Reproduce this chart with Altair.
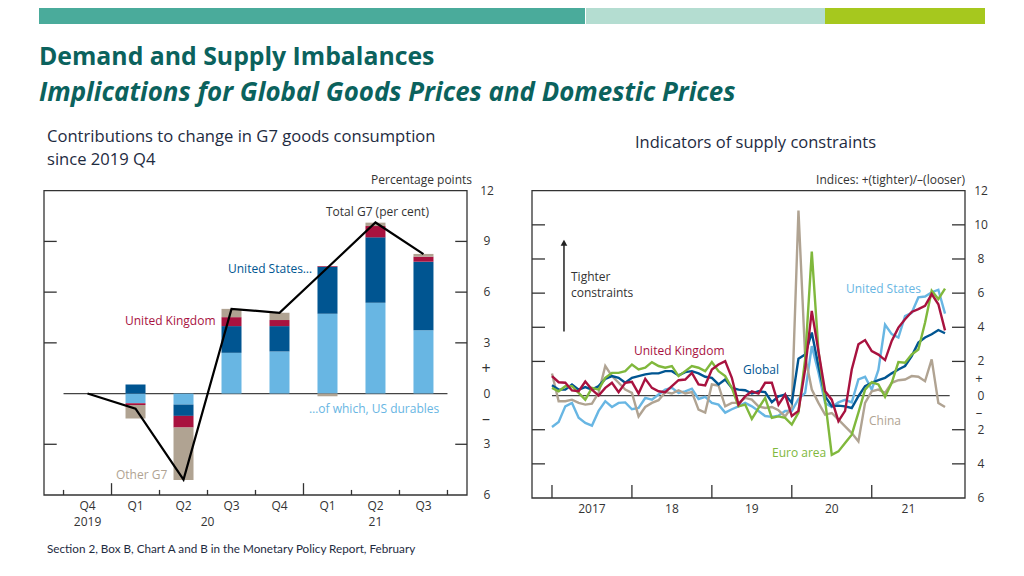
import altair as alt
import pandas as pd

# ---------------- data ----------------
quarters = ["Q4", "Q1", "Q2", "Q3", "Q4", "Q1", "Q2", "Q3"]
years_left = [("2019", 0), ("20", 2.5), ("21", 6)]
us_durables = [0, -0.58, -0.65, 2.41, 2.49, 4.72, 5.37, 3.75]
us_other = [0, 0.53, -0.67, 1.58, 1.50, 2.78, 3.87, 4.05]
uk_contrib = [0, -0.10, -0.69, 0.53, 0.36, 0.04, 0.67, 0.30]
other_g7 = [0, -0.80, -3.10, 0.49, 0.43, -0.16, 0.20, 0.16]
total_g7 = [0, -0.89, -5.09, 5.01, 4.78, 7.44, 10.12, 8.25]

# monthly, Jan 2017 .. Dec 2021
global_idx = [0.60, 0.35, 0.35, 0.65, 0.35, 0.50, 0.35, 0.55, 0.98, 1.14, 1.04, 0.75,
              1.04, 1.14, 1.24, 1.30, 1.30, 1.43, 1.43, 1.18, 1.37, 1.43, 1.30, 1.10,
              1.04, 0.65, 0.94, 0.45, 0.35, 0.31, 0.12, 0.25, 0.20, -0.39, -0.04, 0.06,
              -0.43, 2.16, 2.41, 3.69, 1.73, -0.04, -0.63, -0.59, -0.63, -0.73, -0.04, 0.55,
              0.75, 0.90, 1.04, 1.30, 1.53, 1.73, 2.31, 3.10, 3.40, 3.59, 3.84, 3.65]
uk_idx = [1.14, 0.78, 0.75, 0.30, 0.25, 0.82, 0.35, 0.00, 0.45, 0.75, 0.20, 0.75,
          0.80, 0.12, 0.98, 0.45, 0.25, 0.20, 0.55, 0.90, 0.94, 1.33, 0.65, 0.60,
          1.53, 1.82, 2.02, 1.04, -0.53, -0.04, 0.25, 0.12, 0.75, 0.75, -0.53, 0.06,
          -1.20, -0.90, 1.53, 4.96, 2.60, 0.25, -0.24, -1.50, -0.90, 1.53, 3.00, 3.25,
          2.60, 2.40, 2.08, 3.20, 3.98, 4.47, 4.90, 5.06, 5.25, 5.94, 5.35, 3.82]
us_idx = [-1.84, -1.55, -0.63, -0.43, -1.30, -1.60, -1.76, -0.90, -0.33, -0.67, -0.43, -0.40,
          -0.80, -0.72, -0.14, -0.24, 0.06, 0.35, 0.45, 0.15, 0.25, 0.40, -0.20, -0.08,
          -0.43, -0.53, -1.00, -0.80, -0.63, -0.43, -0.63, -0.90, -1.20, -1.25, -1.18, -0.90,
          -0.90, -0.20, 0.15, 2.90, 1.35, -0.43, -0.67, -0.40, -0.25, -0.40, 0.95, 1.10,
          0.35, 1.50, 4.15, 3.60, 3.40, 4.65, 4.85, 5.75, 5.80, 6.05, 6.20, 4.80]
euro_idx = [0.45, 0.25, 0.55, 0.55, 0.16, -0.24, 0.45, 0.35, 1.04, 1.33, 1.33, 1.43,
            1.82, 1.53, 1.63, 1.96, 1.73, 1.63, 1.73, 1.14, 1.43, 1.73, 1.63, 1.43,
            1.96, 1.43, 1.14, 0.45, -0.63, -0.53, -1.37, -0.73, -0.14, -1.31, -1.22, -1.31,
            -1.70, -1.00, 2.12, 8.43, 2.60, -0.30, -3.47, -3.27, -2.78, -2.29, -1.00, 0.35,
            0.78, 0.65, -0.08, 0.75, 1.96, 1.92, 2.41, 2.70, 4.27, 6.14, 5.65, 6.27]
china_idx = [1.29, -0.33, -0.33, -0.24, -0.43, -0.53, -0.47, 0.16, 1.73, 1.14, 0.75, 0.35,
             0.16, -1.22, -0.67, -0.43, -0.27, 0.20, 0.12, 0.31, 0.12, 0.20, -0.82, -1.00,
             0.65, 0.59, -0.63, -0.43, -0.43, -0.14, -0.24, -0.63, -0.73, -0.67, -0.86, -1.22,
             -0.67, 10.84, 2.31, 0.35, -0.43, -1.12, -1.02, -1.41, -1.80, -2.20, -2.69, -0.43,
             0.25, 0.35, 0.16, 0.75, 0.90, 0.94, 1.14, 1.10, 0.84, 2.12, -0.43, -0.67]
years_right = [("2017", 6), ("18", 18), ("19", 30), ("20", 42), ("21", 53.5)]
left_ticks = [12, 9, 6, 3, 0, -3, -6]
right_ticks = [12, 10, 8, 6, 4, 2, 0, -2, -4, -6]

# ---------------- style ----------------
M = 8
def px(v):
    return v - M

DARKBLUE = "#005591"
RED = "#A8123F"
LIGHTBLUE = "#68B6E3"
TAN = "#B0A392"
GREEN = "#80B83C"
TEAL = "#0B625D"
NAVY = "#1E2B3F"
INK = "#333333"
CF = "Open Sans"
SF = "Open Sans"
FF = "Lato"

ONE = pd.DataFrame({"a": [0]})

def txt(x, y, s, color=INK, size=12, align="left", weight="normal", style="normal",
        font=CF, baseline="middle"):
    return alt.Chart(ONE).mark_text(
        align=align, baseline=baseline, fontSize=size, fontWeight=weight,
        fontStyle=style, font=font, color=color
    ).encode(x=alt.value(px(x)), y=alt.value(px(y)), text=alt.value(s))

def rect(x, x2, y, y2, color):
    return alt.Chart(ONE).mark_rect(color=color).encode(
        x=alt.value(px(x)), x2=alt.value(px(x2)), y=alt.value(px(y)), y2=alt.value(px(y2)))

# ---------------- left panel ----------------
LXD = [-0.907, 7.907]; LXR = [px(39), px(472)]
LYD = [-6, 12]; LYR = [px(495), px(190.7)]

def LX(f):
    return alt.X(f, type="quantitative", scale=alt.Scale(domain=LXD, range=LXR, nice=False, zero=False), axis=None)
def LY(f):
    return alt.Y(f, type="quantitative", scale=alt.Scale(domain=LYD, range=LYR, nice=False, zero=False), axis=None)

comps = [("durables", us_durables, LIGHTBLUE), ("us_other", us_other, DARKBLUE),
         ("uk", uk_contrib, RED), ("other", other_g7, TAN)]
rows = []
for i in range(len(quarters)):
    pos, neg = 0.0, 0.0
    for name, vals, _ in comps:
        v = vals[i]
        if v == 0:
            continue
        if v > 0:
            y0, y1 = pos, pos + v
            pos = y1
        else:
            y0, y1 = neg, neg + v
            neg = y1
        rows.append({"i": i, "comp": name, "y0": y0, "y1": y1})
bars_df = pd.DataFrame(rows)
total_df = pd.DataFrame({"i": list(range(len(total_g7))), "total": total_g7})

frame_l = pd.DataFrame({"x0": [LXD[0]], "x1": [LXD[1]], "y0": [LYD[0]], "y1": [LYD[1]]})
left_frame = alt.Chart(frame_l).mark_rect(fillOpacity=0, stroke=INK, strokeWidth=1.3).encode(
    x=LX("x0"), x2="x1", y=LY("y0"), y2="y1")
zero_l = alt.Chart(pd.DataFrame({"x0": [-0.5], "x1": [7.5], "y": [0]})).mark_rule(
    color="#444", strokeWidth=1.3).encode(x=LX("x0"), x2="x1", y=LY("y"))
bars = alt.Chart(bars_df).mark_bar(size=20).encode(
    x=LX("i"), y=LY("y0"), y2="y1",
    color=alt.Color("comp:N", scale=alt.Scale(domain=[c[0] for c in comps], range=[c[2] for c in comps]), legend=None))
tline = alt.Chart(total_df).mark_line(color="black", strokeWidth=2.2).encode(x=LX("i"), y=LY("total"))

xt = pd.DataFrame({"x": [k - 0.5 for k in range(9)],
                   "h": [-5.7, -5.3, -5.7, -5.7, -5.7, -5.3, -5.7, -5.7, -5.7]})
xt["b"] = -6
left_xticks = alt.Chart(xt).mark_rule(color=INK, strokeWidth=1.3).encode(x=LX("x"), y=LY("b"), y2="h")
yt = pd.DataFrame({"y": [9, 6, 3, -3]})
yt["a0"] = LXD[0]; yt["a1"] = LXD[0] + 0.265; yt["b0"] = LXD[1] - 0.245; yt["b1"] = LXD[1]
left_yticks_l = alt.Chart(yt).mark_rule(color=INK, strokeWidth=1.3).encode(x=LX("a0"), x2="a1", y=LY("y"))
left_yticks_r = alt.Chart(yt).mark_rule(color=INK, strokeWidth=1.3).encode(x=LX("b0"), x2="b1", y=LY("y"))

ql = pd.DataFrame({"i": list(range(len(quarters))), "q": quarters})
qlabels = alt.Chart(ql).mark_text(font=CF, fontSize=12, color=INK, baseline="middle").encode(
    x=LX("i"), y=alt.value(px(506)), text="q:N")
yl = pd.DataFrame({"x": [p for _, p in years_left], "t": [s for s, _ in years_left]})
ylabels = alt.Chart(yl).mark_text(font=CF, fontSize=12, color=INK, baseline="middle").encode(
    x=LX("x"), y=alt.value(px(522)), text="t:N")
ll = pd.DataFrame({"v": left_ticks, "t": [str(abs(v)) for v in left_ticks]})
left_vlabels = alt.Chart(ll).mark_text(font=CF, fontSize=12, color=INK, baseline="middle").encode(
    x=alt.value(px(487)), y=LY("v"), text="t:N")

left = alt.layer(
    left_frame, zero_l, bars, tline, left_xticks, left_yticks_l, left_yticks_r,
    qlabels, ylabels, left_vlabels,
    txt(472, 180, "Percentage points", align="right"),
    txt(326, 212, "Total G7 (per cent)"),
    txt(228, 269, "United States…", color=DARKBLUE),
    txt(125, 321, "United Kingdom", color=RED),
    txt(309, 409, "…of which, US durables", color=LIGHTBLUE),
    txt(116, 475, "Other G7", color=TAN),
    txt(486, 369, "+", size=16, align="center"),
    txt(486, 419, "–", size=16, align="center"),
)

# ---------------- right panel ----------------
RXD = [-3, 62]; RXR = [px(532), px(965)]
RYD = [-6, 12]; RYR = [px(498), px(190.7)]

def RX(f):
    return alt.X(f, type="quantitative", scale=alt.Scale(domain=RXD, range=RXR, nice=False, zero=False), axis=None)
def RY(f):
    return alt.Y(f, type="quantitative", scale=alt.Scale(domain=RYD, range=RYR, nice=False, zero=False), axis=None)

frame_r = pd.DataFrame({"x0": [RXD[0]], "x1": [RXD[1]], "y0": [RYD[0]], "y1": [RYD[1]]})
right_frame = alt.Chart(frame_r).mark_rect(fillOpacity=0, stroke=INK, strokeWidth=1.3).encode(
    x=RX("x0"), x2="x1", y=RY("y0"), y2="y1")
zero_r = alt.Chart(pd.DataFrame({"x0": [0], "x1": [59.7], "y": [0]})).mark_rule(
    color="#444", strokeWidth=1.3).encode(x=RX("x0"), x2="x1", y=RY("y"))

series = [("United States", us_idx, LIGHTBLUE), ("China", china_idx, TAN),
          ("Global", global_idx, DARKBLUE), ("Euro area", euro_idx, GREEN),
          ("United Kingdom", uk_idx, RED)]
line_layers = []
for name, vals, col in series:
    d = pd.DataFrame({"m": list(range(len(vals))), "v": vals})
    line_layers.append(alt.Chart(d).mark_line(color=col, strokeWidth=2.4).encode(x=RX("m"), y=RY("v")))

rxt = pd.DataFrame({"x": [0, 12, 24, 36, 48]})
rxt["b"] = -6; rxt["h"] = -5.24
right_xticks = alt.Chart(rxt).mark_rule(color=INK, strokeWidth=1.3).encode(x=RX("x"), y=RY("b"), y2="h")
ryt = pd.DataFrame({"y": [10, 8, 6, 4, 2, -2, -4]})
ryt["a0"] = RXD[0]; ryt["a1"] = RXD[0] + 1.95; ryt["b0"] = RXD[1] - 1.95; ryt["b1"] = RXD[1]
right_yticks_l = alt.Chart(ryt).mark_rule(color=INK, strokeWidth=1.3).encode(x=RX("a0"), x2="a1", y=RY("y"))
right_yticks_r = alt.Chart(ryt).mark_rule(color=INK, strokeWidth=1.3).encode(x=RX("b0"), x2="b1", y=RY("y"))

ryl = pd.DataFrame({"x": [p for _, p in years_right], "t": [s for s, _ in years_right]})
ryears = alt.Chart(ryl).mark_text(font=CF, fontSize=12, color=INK, baseline="middle").encode(
    x=RX("x"), y=alt.value(px(509)), text="t:N")
rl = pd.DataFrame({"v": right_ticks, "t": [str(abs(v)) for v in right_ticks]})
right_vlabels = alt.Chart(rl).mark_text(font=CF, fontSize=12, color=INK, baseline="middle").encode(
    x=alt.value(px(981)), y=RY("v"), text="t:N")

arrow_df = pd.DataFrame({"x": [1.8], "y0": [3.76], "y1": [8.9], "tip": [8.95]})
arrow_shaft = alt.Chart(arrow_df).mark_rule(color="#222", strokeWidth=1.5).encode(x=RX("x"), y=RY("y0"), y2="y1")
arrow_head = alt.Chart(arrow_df).mark_point(shape="triangle-up", filled=True, color="#222", size=45, opacity=1).encode(
    x=RX("x"), y=RY("tip"))

right = alt.layer(
    right_frame, zero_r, *line_layers, right_xticks, right_yticks_l, right_yticks_r,
    ryears, right_vlabels, arrow_shaft, arrow_head,
    txt(965, 180, "Indices: +(tighter)/–(looser)", align="right"),
    txt(571, 277, "Tighter"),
    txt(571, 293, "constraints"),
    txt(634, 351, "United Kingdom", color=RED),
    txt(743, 370, "Global", color=DARKBLUE),
    txt(846, 289, "United States", color=LIGHTBLUE),
    txt(869, 421, "China", color=TAN),
    txt(772, 453, "Euro area", color=GREEN),
    txt(979, 379, "+", size=13, align="center"),
    txt(979, 413, "–", size=13, align="center"),
)

# ---------------- header / footer ----------------
header = alt.layer(
    rect(39, 585, 0, 24, "#4AAB9B"),
    rect(586, 825, 0, 24, "#B4DDD1"),
    rect(825, 985, 0, 24, "#A6C81E"),
    txt(39, 65, "Demand and Supply Imbalances", color=TEAL, size=24.8, weight="bold", font=SF, baseline="alphabetic"),
    txt(39, 101, "Implications for Global Goods Prices and Domestic Prices", color=TEAL, size=25.9,
        weight="bold", style="italic", font=SF, baseline="alphabetic"),
    txt(47, 142, "Contributions to change in G7 goods consumption", color=NAVY, size=16.6, font=SF, baseline="alphabetic"),
    txt(47, 165, "since 2019 Q4", color=NAVY, size=16.6, font=SF, baseline="alphabetic"),
    txt(635, 148, "Indicators of supply constraints", color=NAVY, size=16.5, font=SF, baseline="alphabetic"),
    txt(47, 553, "Section 2, Box B, Chart A and B in the Monetary Policy Report, February", color=NAVY,
        size=11.7, font=FF, baseline="alphabetic"),
)

chart = alt.layer(header, left, right).resolve_scale(
    x="independent", y="independent", color="independent"
).properties(
    width=1000, height=556, autosize=alt.AutoSizeParams(type="none"), padding=0
).configure_view(strokeWidth=0)

chart.save("out.html", embed_options={"renderer": "svg", "actions": False})
